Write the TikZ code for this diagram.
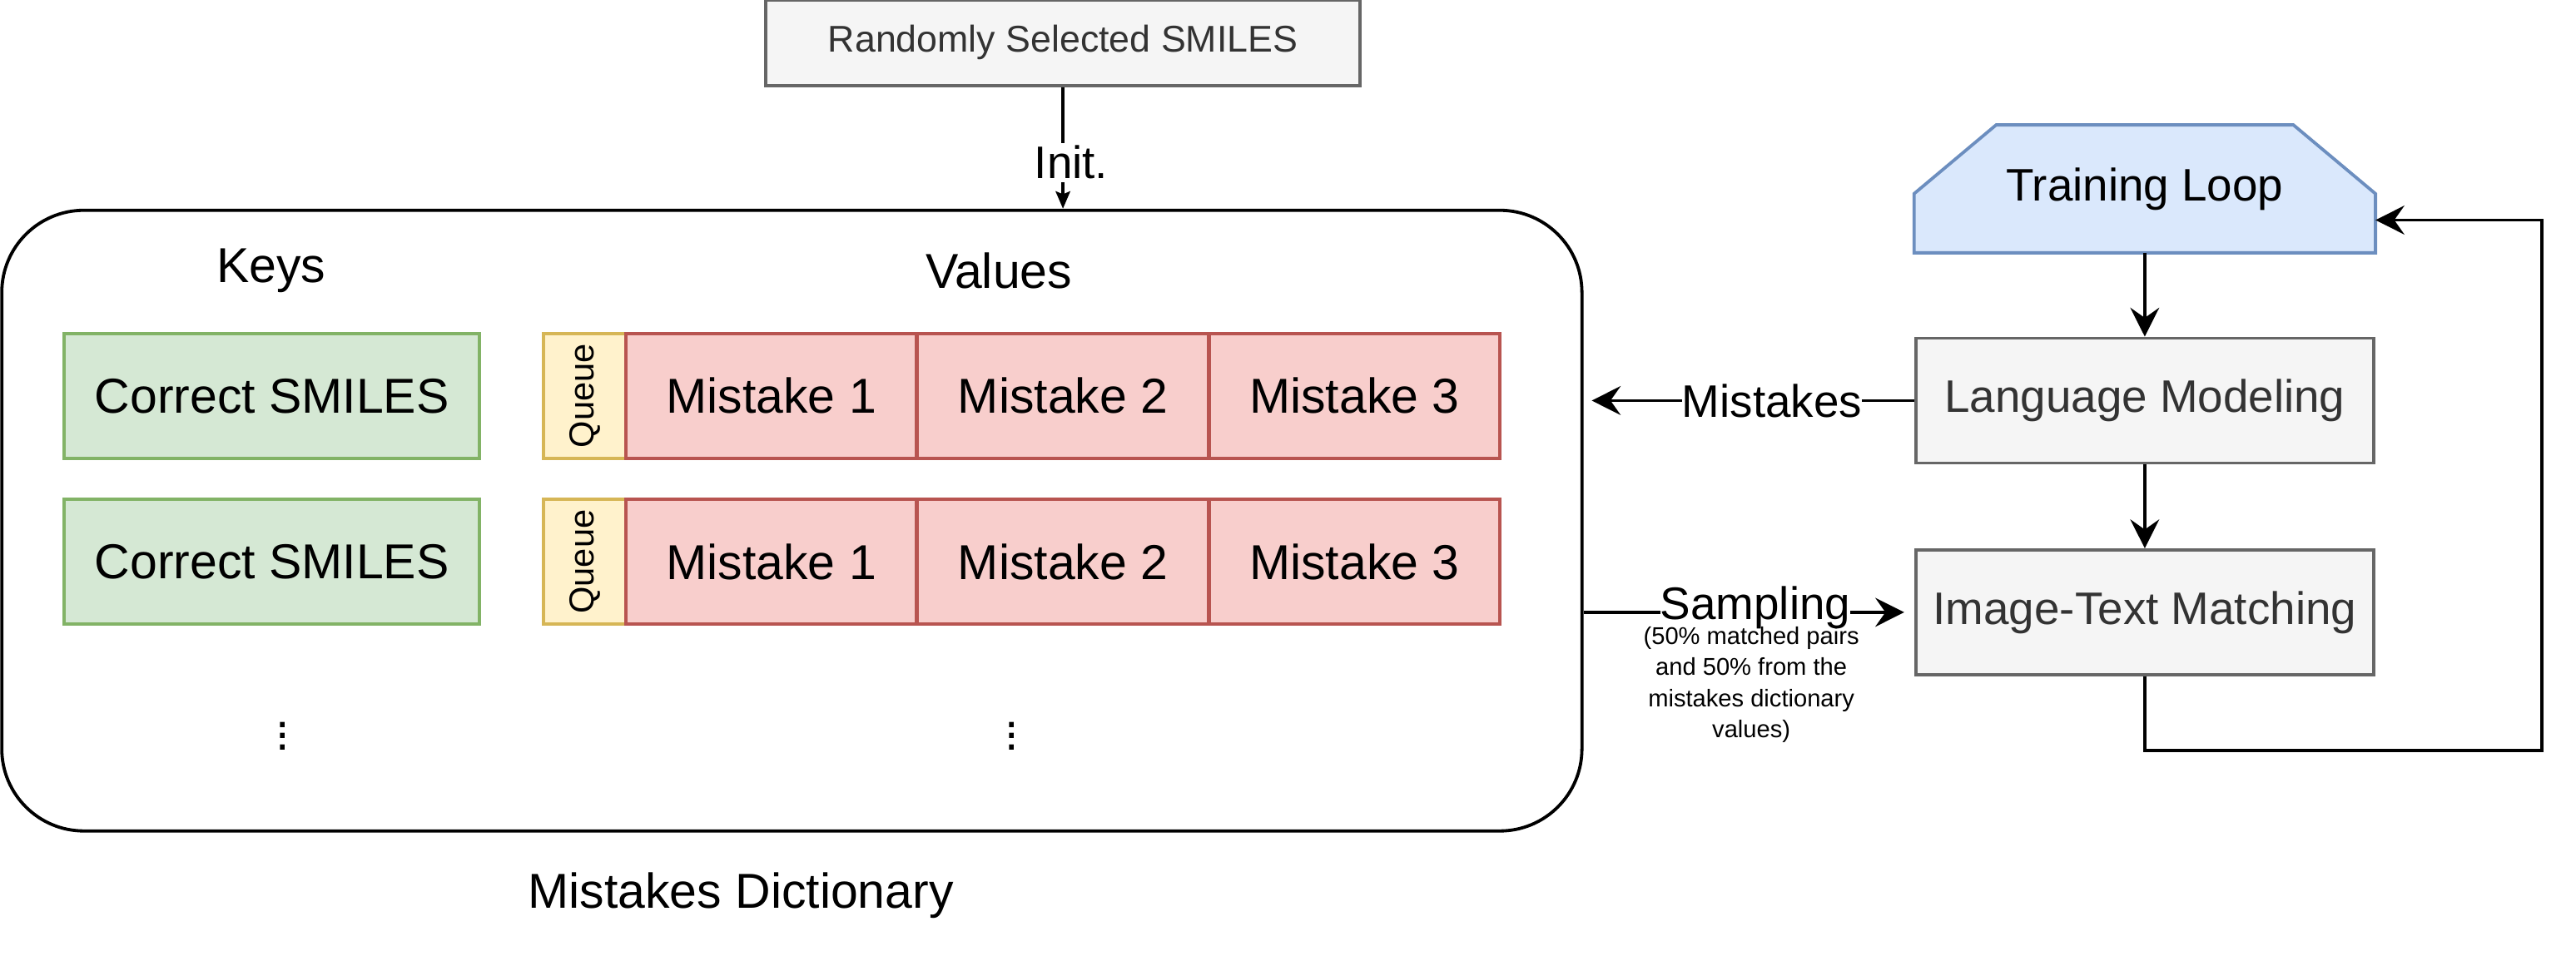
\documentclass[tikz,border=0pt]{standalone}
\usepackage{fontspec}
\setmainfont{Liberation Sans}
\usetikzlibrary{arrows.meta,positioning,backgrounds,calc}
\definecolor{grayfill}{HTML}{F5F5F5}
\definecolor{graydraw}{HTML}{666666}
\definecolor{graytext}{HTML}{333333}
\definecolor{greenfill}{HTML}{D5E8D4}
\definecolor{greendraw}{HTML}{82B366}
\definecolor{yellowfill}{HTML}{FFF2CC}
\definecolor{yellowdraw}{HTML}{D6B656}
\definecolor{redfill}{HTML}{F8CECC}
\definecolor{reddraw}{HTML}{B85450}
\definecolor{bluefill}{HTML}{DAE8FC}
\definecolor{bluedraw}{HTML}{6C8EBF}

\begin{document}
\begin{tikzpicture}
  [
    x=0.02cm, y=-0.02cm,
    node distance=1.02cm,
    every node/.style={font=\fontsize{17}{20}\selectfont},
    side/.style={font=\fontsize{15.8}{19}\selectfont},
    box/.style={rectangle,draw,line width=1.1pt,inner sep=0pt,minimum height=1.52cm},
    keybox/.style={box,draw=greendraw,fill=greenfill,minimum width=5.06cm},
    queuebox/.style={box,draw=yellowdraw,fill=yellowfill,minimum width=1cm,
      font=\fontsize{12}{14}\selectfont},
    mistakebox/.style={box,draw=reddraw,fill=redfill,minimum width=3.54cm},
    stepbox/.style={box,side,draw=graydraw,fill=grayfill,text=graytext,minimum width=5.58cm},
    conn/.style={line width=1.1pt,-{Stealth[length=10pt,width=10pt,inset=3.5pt]}},
    initconn/.style={line width=1.1pt,-{Stealth[length=6pt,width=5pt,inset=1pt]}}
  ]
  \useasboundingbox (0,0) rectangle (1568,585);
  \node[stepbox,minimum width=7.24cm,minimum height=1.04cm,
    font=\fontsize{12.9}{15}\selectfont] (random) at (647,26) {Randomly Selected SMILES};
  \node[rectangle,draw,rounded corners=1cm,line width=1.1pt,minimum width=19.24cm,
    minimum height=7.56cm] (dict) at (482,317) {};
  \node (keys) at (165,165) {Keys};
  \node (values) at (608,165) {Values};
  \node[keybox] (key1) at (165.5,241) {Correct SMILES};
  \node[keybox] (key2) at (165.5,342) {Correct SMILES};
  \foreach \row/\y in {1/241,2/342}
  {
    \node[queuebox] (queue\row) at (356,\y) {\rotatebox{90}{Queue}};
    \node[mistakebox] (mistake\row a) at (469.5,\y) {Mistake 1};
    \node[mistakebox] (mistake\row b) at (647,\y) {Mistake 2};
    \node[mistakebox] (mistake\row c) at (824.5,\y) {Mistake 3};
  }
  \node (keydots) at (172,443) {$\vdots$};
  \node (valuedots) at (616,443) {$\vdots$};
  \node (dictlabel) at (451,545) {Mistakes Dictionary};
  \node[box,side,draw=none,minimum width=5.58cm] (train) at (1305.5,115) {Training Loop};
  \begin{scope}[on background layer]
    \draw[draw=bluedraw,fill=bluefill,line width=1.1pt] (train.south west)
      -- ([yshift=0.72cm]train.south west) -- ([xshift=1cm]train.north west)
      -- ([xshift=-1cm]train.north east) -- ([yshift=0.72cm]train.south east)
      -- (train.south east) -- cycle;
  \end{scope}
  \node[stepbox] (lm) [below = of train] {Language Modeling};
  \node[stepbox] (itm) [below = of lm] {Image-Text Matching};
  \coordinate (back) at (1547,457);
  \draw [initconn] (random.south) -- (random.south |- dict.north)
    node [pos=0.62,fill=white,inner sep=1pt,side,xshift=0.1cm] {Init.};
  \draw [conn] (train) -- (lm);
  \draw [conn] (lm) -- (itm);
  \draw [conn,shorten >=0.1cm] (lm.west) -- (lm.west -| dict.east)
    node [pos=0.43,fill=white,inner sep=0pt,side] {Mistakes};
  \draw [conn,shorten >=0.12cm] (itm.west -| dict.east) -- (itm.west)
    node [pos=0.52,fill=white,inner sep=0pt,side,yshift=0.06cm] {Sampling};
  \draw [conn] (itm.south) |- (back) |- ([yshift=-0.38cm]train.east);
  \node[align=center,font=\fontsize{8.4}{10.8}\selectfont] (note) at (1066,417)
    {(50\% matched pairs\\and 50\% from the\\mistakes dictionary\\values)};
\end{tikzpicture}
\end{document}
